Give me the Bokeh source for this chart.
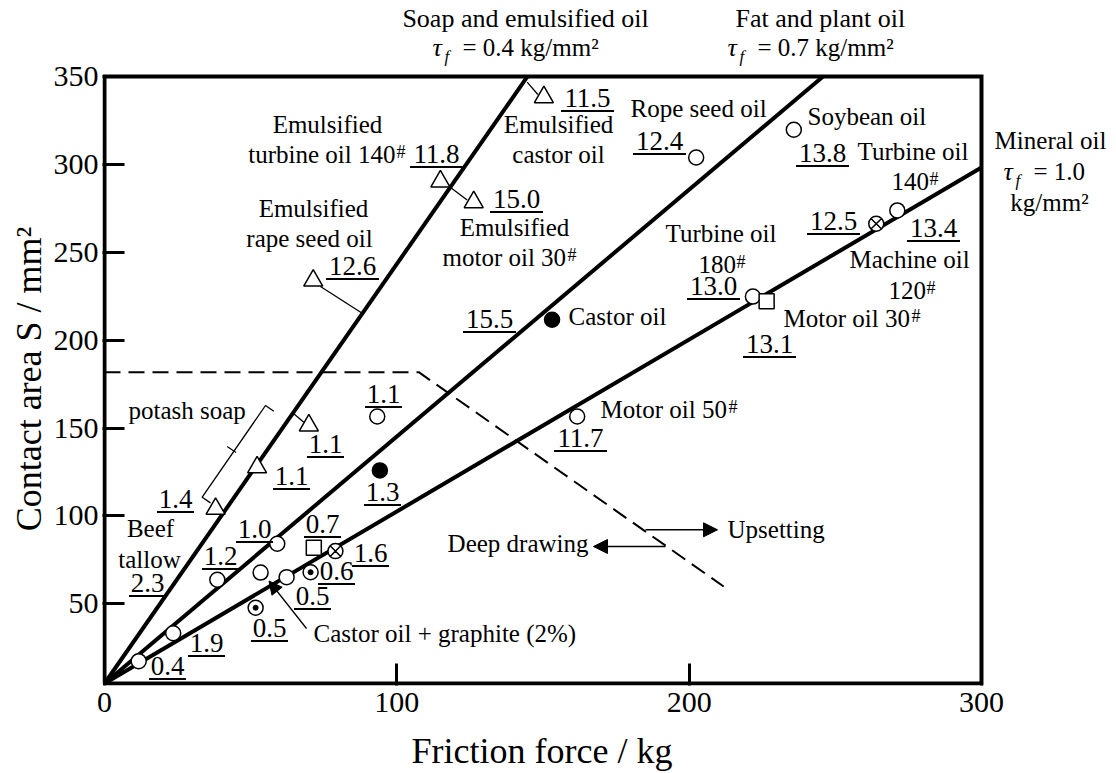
from bokeh.plotting import figure
from bokeh.models import Range1d, Label, FixedTicker, Arrow, NormalHead
from bokeh.embed import file_html
from bokeh.resources import INLINE

# ---------------- data ----------------
x_ticks = [0, 100, 200, 300]
y_ticks = [50, 100, 150, 200, 250, 300, 350]

# plotting box of the chart
box_F = [0, 300, 300, 0, 0]
box_S = [4.7, 4.7, 350, 350, 4.7]

# friction-law lines  S = F / tau_f  (drawn from the axis corner to the box edge)
tau_f = [0.4, 0.7, 1.0]
line_start_F = [0.0, 0.0, 0.0]
line_start_S = [4.7, 4.7, 4.7]
line_end_F = [144.7, 245.8, 300.0]
line_end_S = [350.0, 350.0, 298.2]

# boundary between deep drawing and upsetting (dashed)
bound_F = [0.0, 107.5, 211.8]
bound_S = [181.8, 181.8, 59.9]

# open triangles: soaps and emulsified oils
tri_F = [150.3, 114.9, 126.3, 71.4, 69.9, 52.2, 38.0]
tri_S = [338.2, 290.3, 278.5, 233.9, 151.5, 127.7, 104.1]

# open circles
circ_F = [93.3, 59.1, 38.6, 53.4, 62.3, 11.7, 23.5, 161.7, 202.4, 235.8, 271.2, 221.8]
circ_S = [156.6, 84.2, 63.7, 67.8, 65.2, 17.4, 33.3, 156.6, 303.9, 319.7, 273.8, 224.8]

# filled circles (castor oil)
fill_F = [153.1, 94.2]
fill_S = [211.6, 125.9]

# open squares (motor oil 30#)
sq_F = [71.6, 226.5]
sq_S = [81.9, 222.2]

# circle with cross (machine oil 120#)
cx_F = [79.0, 264.0]
cx_S = [80.0, 266.2]

# circle with dot
cd_F = [70.5, 51.7]
cd_S = [68.0, 47.8]

# ---------------- figure ----------------
SERIF = "Liberation Serif"
NB = "\u00a0"

# frame spans the canvas above and right of the axes so that all texts are inside it
p = figure(width=1116, height=773,
           x_range=Range1d(-2.0 / 2.9233, 1012.0 / 2.9233),
           y_range=Range1d(4.7 - 2.0 / 1.758, 4.7 + 683.0 / 1.758),
           output_backend="svg", toolbar_location=None,
           min_border_left=102, min_border_right=0, min_border_top=0, min_border_bottom=88)
p.background_fill_color = "white"
p.border_fill_color = "white"
p.xgrid.visible = False
p.ygrid.visible = False
p.outline_line_color = None

for ax, ticks in ((p.xaxis, x_ticks), (p.yaxis, y_ticks)):
    ax.ticker = FixedTicker(ticks=ticks)
    ax.axis_line_color = None
    ax.major_tick_in = 22
    ax.major_tick_out = 0
    ax.major_tick_line_width = 3
    ax.major_tick_line_color = "black"
    ax.minor_tick_line_color = None
    ax.major_label_text_font = SERIF
    ax.major_label_text_font_size = "30px"
    ax.major_label_text_color = "black"
    ax.axis_label_text_font = SERIF
    ax.axis_label_text_font_size = "36px"
    ax.axis_label_text_font_style = "normal"
    ax.axis_label_text_color = "black"
p.xaxis.major_label_standoff = 7
p.yaxis.major_label_standoff = 4
p.xaxis.axis_label = "Friction force / kg" + NB * 15
p.xaxis.axis_label_standoff = 16
p.yaxis.axis_label = "Contact area S / mm²" + NB * 8
p.yaxis.axis_label_standoff = 2

# pixel -> data helpers for annotation placement
PX0, PXW = 104.0, 2.9233
PY0, PYH = 683.0, 1.758
def X(px):
    return (px - PX0) / PXW
def Y(py):
    return 4.7 + (PY0 - py) / PYH

def lab(text, px, py, size=25, align="left", style="normal"):
    # py is the wanted baseline; Bokeh's label anchor sits ~0.36 em below it
    p.add_layout(Label(x=X(px), y=Y(py - 0.36 * size), text=text, text_font=SERIF,
                       text_font_size=f"{size}px", text_font_style=style,
                       text_align=align, text_baseline="alphabetic",
                       text_color="black"))

# ---------------- box and lines ----------------
p.line(box_F, box_S, line_width=4, color="black", line_join="miter")
p.segment(line_start_F, line_start_S, line_end_F, line_end_S, line_width=4, color="black")
p.line(bound_F, bound_S, line_width=2, color="black", line_dash="16 8")

# leader lines and bracket (pixel positions)
leaders = [
    [(526.7, 81.7), (537.3, 94.0)],
    [(450.0, 187.0), (466.7, 199.5)],
    [(320.0, 286.0), (361.7, 312.7)],
    [(293.3, 413.3), (303.3, 421.7)],
    [(273.3, 410.7), (265.0, 405.0), (201.7, 496.7), (210.0, 502.4)],
    [(235.5, 452.0), (226.7, 446.0)],
]
for seg in leaders:
    p.line([X(a) for a, b in seg], [Y(b) for a, b in seg], line_width=1.3, color="black")

# ---------------- markers ----------------
p.scatter(tri_F, tri_S, marker="triangle", size=19, fill_color="white", line_color="black", line_width=1.5)
p.scatter(circ_F, circ_S, marker="circle", size=15, fill_color="white", line_color="black", line_width=1.5)
p.scatter(fill_F, fill_S, marker="circle", size=15, fill_color="black", line_color="black", line_width=1.5)
p.scatter(sq_F, sq_S, marker="square", size=15, fill_color="white", line_color="black", line_width=1.5)
p.scatter(cx_F, cx_S, marker="circle_x", size=15, fill_color="white", line_color="black", line_width=1.5)
p.scatter(cd_F, cd_S, marker="circle", size=15, fill_color="white", line_color="black", line_width=1.5)
p.scatter(cd_F, cd_S, marker="circle", size=5, fill_color="black", line_color="black")

# arrows
p.add_layout(Arrow(end=NormalHead(size=14, fill_color="black", line_color="black"),
                   x_start=X(645), y_start=Y(529.3), x_end=X(717), y_end=Y(529.3),
                   line_width=1.5, line_color="black"))
p.add_layout(Arrow(end=NormalHead(size=14, fill_color="black", line_color="black"),
                   x_start=X(665), y_start=Y(546), x_end=X(593), y_end=Y(546),
                   line_width=1.5, line_color="black"))
p.add_layout(Arrow(end=NormalHead(size=13, fill_color="black", line_color="black"),
                   x_start=X(306), y_start=Y(628), x_end=X(268.5), y_end=Y(580.5),
                   line_width=1.3, line_color="black"))

# ---------------- texts ----------------
texts = [
    ("Soap and emulsified oil", 525, 27, "center", 26),
    ("Fat and plant oil", 735, 27, "left", 26),
    ("Mineral oil", 1050, 149, "center", 25),
    ("kg/mm²", 1049, 211, "center", 25),
    ("Emulsified", 558, 133, "center", 25), ("castor oil", 558, 163, "center", 25),
    ("Emulsified", 327, 133, "center", 25), ("turbine oil 140", 395, 163, "right", 25),
    ("Emulsified", 514, 236, "center", 25), ("motor oil 30", 442, 266, "left", 25),
    ("Emulsified", 313, 217, "center", 25), ("rape seed oil", 309, 247, "center", 25),
    ("Rope seed oil", 630, 117, "left", 25),
    ("Soybean oil", 807, 125, "left", 25),
    ("Turbine oil", 857, 160, "left", 25), ("140", 891, 190, "left", 25),
    ("Machine oil", 849, 268, "left", 25), ("120", 888, 299, "left", 25),
    ("Turbine oil", 665, 242, "left", 25), ("180", 698, 273, "left", 25),
    ("Motor oil 30", 783, 327, "left", 25),
    ("Castor oil", 568, 325, "left", 25),
    ("Motor oil 50", 600, 418, "left", 25),
    ("potash soap", 128, 419, "left", 25),
    ("Beef", 150, 537, "center", 25), ("tallow", 149, 568, "center", 25),
    ("Castor oil + graphite (2%)", 313, 642, "left", 25),
    ("Upsetting", 727, 538, "left", 25),
    ("Deep drawing", 588, 552, "right", 25),
]
for t, px, py, al, sz in texts:
    lab(t, px, py, size=sz, align=al)

# superscript "#" marks after oil grades
sups = [(396, 158), (567, 261), (929, 185), (926, 294), (736, 268), (911, 322), (728, 413)]
for px, py in sups:
    lab("#", px, py, size=18, align="left")

# tau_f expressions
for tx, by, rest in ((432, 56, "= 0.4 kg/mm²"), (727, 56, "= 0.7 kg/mm²"), (1003, 180, "= 1.0")):
    lab("τ", tx, by, size=26, style="italic")
    lab("f", tx + 12, by + 6, size=17, style="italic")
    lab(rest, tx + 30, by, size=25)

# underlined values
values = [
    ("11.5", 587, 107), ("11.8", 436, 163), ("15.0", 516, 208), ("12.6", 352, 275),
    ("12.4", 659, 150), ("13.8", 822, 162), ("13.4", 933, 237), ("12.5", 833, 230),
    ("13.0", 713, 295), ("13.1", 769, 353), ("15.5", 489, 328), ("11.7", 580, 447),
    ("1.1", 383, 403), ("1.1", 325, 453), ("1.1", 291, 485), ("1.3", 382, 501),
    ("1.4", 175, 508), ("1.0", 254, 538), ("0.7", 322, 533), ("1.6", 370, 562),
    ("1.2", 220, 565), ("2.3", 147, 592), ("0.6", 336, 580), ("0.5", 312, 605),
    ("0.5", 269, 637), ("1.9", 206, 652), ("0.4", 167, 675),
]
ux0, ux1, uy = [], [], []
for t, cx, by in values:
    lab(t, cx, by, size=27, align="center")
    w = 53 if len(t) == 4 else 37
    ux0.append(X(cx - w / 2)); ux1.append(X(cx + w / 2)); uy.append(Y(by + 3.5))
p.segment(ux0, uy, ux1, uy, line_width=1.8, color="black")

open("out.html", "w").write(file_html(p, INLINE))
